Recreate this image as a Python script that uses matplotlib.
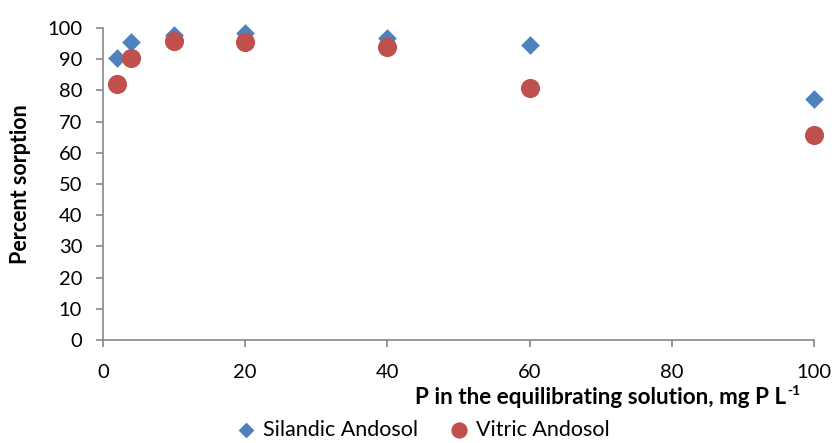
import matplotlib
matplotlib.use("Agg")
import matplotlib.pyplot as plt

# Data
p_conc = [2, 4, 10, 20, 40, 60, 100]
silandic = [90.3, 95.4, 97.6, 98.3, 96.8, 94.6, 77.2]
vitric = [82.0, 90.4, 95.9, 95.5, 94.0, 80.8, 65.8]
x_ticks = [0, 20, 40, 60, 80, 100]
y_ticks = list(range(0, 101, 10))

plt.rcParams["font.family"] = ["Lato", "DejaVu Sans"]

fig = plt.figure(figsize=(8.34, 4.43), dpi=100)
ax = fig.add_axes([103 / 834, 103 / 443, 711 / 834, 312 / 443])

ax.scatter(p_conc, silandic, marker="D", s=90, color="#4F81BD", label="Silandic Andosol",
           zorder=3, linewidths=0, clip_on=False)
ax.scatter(p_conc, vitric, marker="o", s=190, color="#C0504D", label="Vitric Andosol",
           zorder=4, linewidths=0, clip_on=False)

ax.set_xlim(0, 100)
ax.set_ylim(0, 100)
ax.set_xticks(x_ticks)
ax.set_yticks(y_ticks)
ax.tick_params(labelsize=14.5, color="#888888", length=5, width=1.2)
ax.tick_params(axis="y", pad=10)
ax.tick_params(axis="x", pad=12)

for side in ["top", "right"]:
    ax.spines[side].set_visible(False)
for side in ["left", "bottom"]:
    ax.spines[side].set_color("#888888")
    ax.spines[side].set_linewidth(1.2)

ax.set_ylabel("Percent sorption", fontsize=15.5, fontweight="bold")
ax.yaxis.set_label_coords(-72 / 711, 0.5)

# x label with a small superscript "-1"
fig.text(786 / 834, 1 - 398 / 443, "P in the equilibrating solution, mg P L",
         ha="right", va="center", fontsize=16.2, fontweight="bold")
fig.text(787 / 834, 1 - 391 / 443, "-1", ha="left", va="center", fontsize=10,
         fontweight="bold")

fig.legend(loc="center", bbox_to_anchor=(0.5, 1 - 430 / 443), ncol=2, frameon=False,
           fontsize=15.5, handletextpad=-0.2, columnspacing=0.9, markerscale=0.85,
           borderaxespad=0)

fig.savefig("out.png", dpi=100)
